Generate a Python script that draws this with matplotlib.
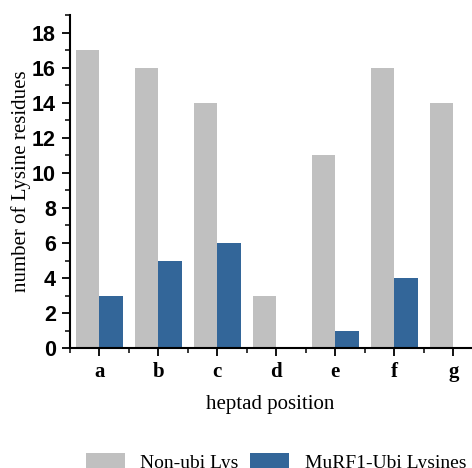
import numpy as np
import matplotlib
matplotlib.use("Agg")
import matplotlib.pyplot as plt
from matplotlib.ticker import MultipleLocator

positions = ["a", "b", "c", "d", "e", "f", "g"]
non_ubi = [17, 16, 14, 3, 11, 16, 14]
murf1_ubi = [3, 5, 6, 0, 1, 4, 0]

gray = "#c0c0c0"
blue = "#336699"

fig = plt.figure(figsize=(4.72, 4.68), dpi=100)
ax = fig.add_axes([0.148, 0.256, 0.85, 0.712])

x = np.arange(len(positions))
w = 0.4
ax.bar(x - w / 2, non_ubi, w, color=gray, label="Non-ubi Lys")
ax.bar(x + w / 2, murf1_ubi, w, color=blue, label="MuRF1-Ubi Lysines")

ax.set_xlim(-0.5, 6.3)
ax.set_ylim(0, 19)
ax.set_xticks(x)
ax.set_xticklabels(positions, family="Liberation Serif", fontweight="bold", fontsize=15)
ax.xaxis.set_minor_locator(MultipleLocator(1, offset=0.5))
ax.yaxis.set_minor_locator(MultipleLocator(1))
ax.set_yticks(np.arange(0, 19, 2))
for lab in ax.get_yticklabels():
    lab.set_family("Liberation Sans")
    lab.set_fontweight("bold")
    lab.set_fontsize(15.5)

ax.tick_params(which="major", direction="out", length=6, width=1.3, pad=4)
ax.tick_params(axis="x", which="major", pad=4)
ax.tick_params(which="minor", direction="out", length=3.5, width=1.1)
for s in ["top", "right"]:
    ax.spines[s].set_visible(False)
for s in ["left", "bottom"]:
    ax.spines[s].set_linewidth(1.5)

ax.set_ylabel("number of Lysine residues", family="Liberation Serif", fontsize=15, labelpad=1)
ax.set_xlabel("heptad position", family="Liberation Serif", fontsize=15, labelpad=9)

fig.legend(loc="center", bbox_to_anchor=(0.585, 0.012), ncol=2, frameon=False,
           prop={"family": "Liberation Serif", "size": 14}, handlelength=2.0,
           handleheight=1.0, handletextpad=0.8, columnspacing=0.6)

fig.savefig("out.png", dpi=100)
